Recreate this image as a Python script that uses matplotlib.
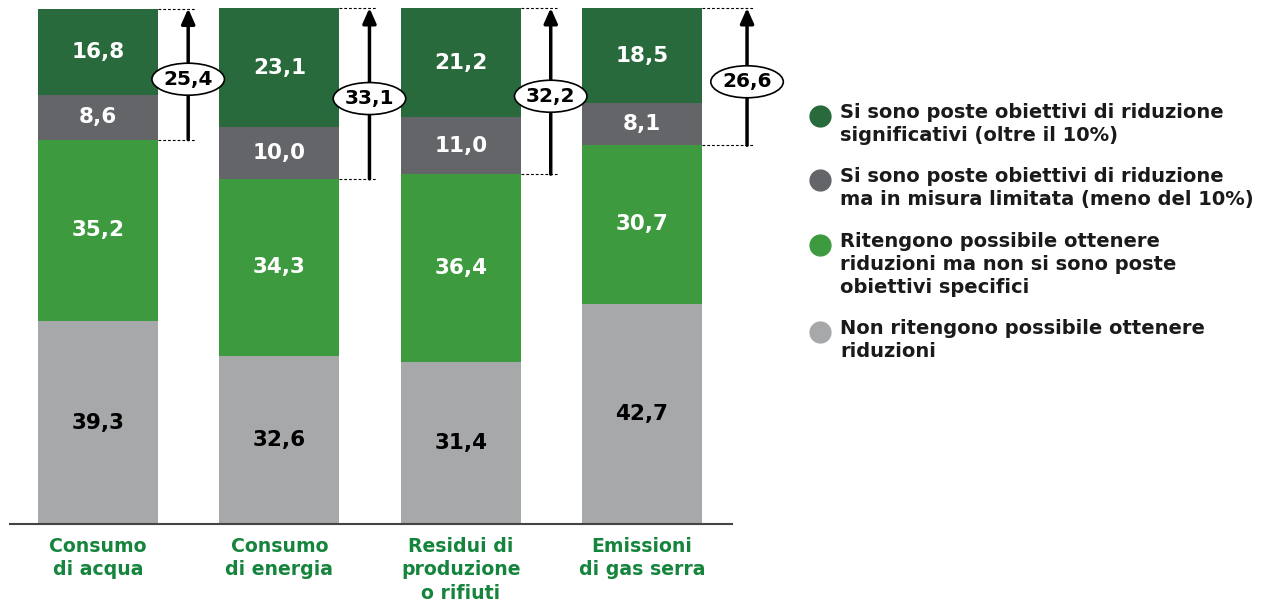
import matplotlib.pyplot as plt
from matplotlib.patches import Ellipse
import numpy as np

categories = ["Consumo\ndi acqua", "Consumo\ndi energia", "Residui di\nproduzione\no rifiuti", "Emissioni\ndi gas serra"]
non_possibile = [39.3, 32.6, 31.4, 42.7]
possibile_no_obiettivi = [35.2, 34.3, 36.4, 30.7]
obiettivi_limitati = [8.6, 10.0, 11.0, 8.1]
obiettivi_significativi = [16.8, 23.1, 21.2, 18.5]
totale_obiettivi = [25.4, 33.1, 32.2, 26.6]

legend_labels = [
    "Si sono poste obiettivi di riduzione\nsignificativi (oltre il 10%)",
    "Si sono poste obiettivi di riduzione\nma in misura limitata (meno del 10%)",
    "Ritengono possibile ottenere\nriduzioni ma non si sono poste\nobiettivi specifici",
    "Non ritengono possibile ottenere\nriduzioni",
]

# colours
c_dark_green = '#286a3b'
c_dark_gray = '#646569'
c_green = '#3e9a3f'
c_light_gray = '#a7a8aa'
c_cat = '#15843c'

plt.rcParams['font.family'] = ['DejaVu Sans']

fig = plt.figure(figsize=(12.66, 6.03), dpi=100)
ax = fig.add_axes([10 / 1266, 79 / 603, 722 / 1266, 516 / 603])

x = np.arange(len(categories))
width = 0.663

series = [
    (non_possibile, c_light_gray, 'black'),
    (possibile_no_obiettivi, c_green, 'white'),
    (obiettivi_limitati, c_dark_gray, 'white'),
    (obiettivi_significativi, c_dark_green, 'white'),
]

bottom = np.zeros(len(categories))
for vals, col, tcol in series:
    vals = np.array(vals)
    ax.bar(x, vals, width, bottom=bottom, color=col, edgecolor='none')
    for xi, b, v in zip(x, bottom, vals):
        ax.text(xi, b + v / 2, f"{v:.1f}".replace('.', ','), ha='center', va='center',
                fontsize=15.5, fontweight='bold', color=tcol)
    bottom += vals

# brackets with arrows
arrow_offsets = [0.497, 0.497, 0.497, 0.58]
for xi, tot, off, top in zip(x, totale_obiettivi, arrow_offsets, bottom):
    ax_x = xi + off
    low = top - tot
    for yy in (top, low):
        ax.plot([xi + width / 2, ax_x + 0.035], [yy, yy], ls=(0, (2.5, 1.8)), color='black',
                lw=0.8, clip_on=False)
    arr = ax.annotate('', xy=(ax_x, top), xytext=(ax_x, low), annotation_clip=False,
                      arrowprops=dict(arrowstyle='-|>,head_length=0.9,head_width=0.4', color='black',
                                      lw=2.5, shrinkA=0, shrinkB=0))
    arr.arrow_patch.set_clip_on(False)
    ymid = top - tot / 2 - 1.0
    ax.add_patch(Ellipse((ax_x, ymid), 0.40, 6.2, facecolor='white', edgecolor='black', lw=1.2,
                         zorder=3, clip_on=False))
    ax.text(ax_x, ymid, f"{tot:.1f}".replace('.', ','), ha='center', va='center',
            fontsize=14.5, fontweight='bold', color='black', zorder=4)

ax.set_xlim(-0.486, 3.497)
ax.set_ylim(0, 100)
ax.set_xticks(x)
ax.set_xticklabels(categories, fontsize=13.6, fontweight='bold', color=c_cat, linespacing=1.32)
ax.tick_params(axis='x', length=0, pad=9)
ax.set_yticks([])
for s in ['top', 'left', 'right']:
    ax.spines[s].set_visible(False)
ax.spines['bottom'].set_color('#444444')
ax.spines['bottom'].set_linewidth(1.5)

# legend drawn manually
leg_colors = [c_dark_green, c_dark_gray, c_green, c_light_gray]
leg_y = [114, 178, 243, 330]
for lab, col, yy in zip(legend_labels, leg_colors, leg_y):
    fy = 1 - yy / 603
    fig.add_artist(plt.Line2D([820 / 1266], [fy - 0.003], marker='o', markersize=15,
                              color=col, transform=fig.transFigure))
    fig.text(840 / 1266, 1 - (yy - 11) / 603, lab, ha='left', va='top', fontsize=14,
             fontweight='bold', color='#1a1a1a', linespacing=1.28)

fig.savefig('out.png', dpi=100)
